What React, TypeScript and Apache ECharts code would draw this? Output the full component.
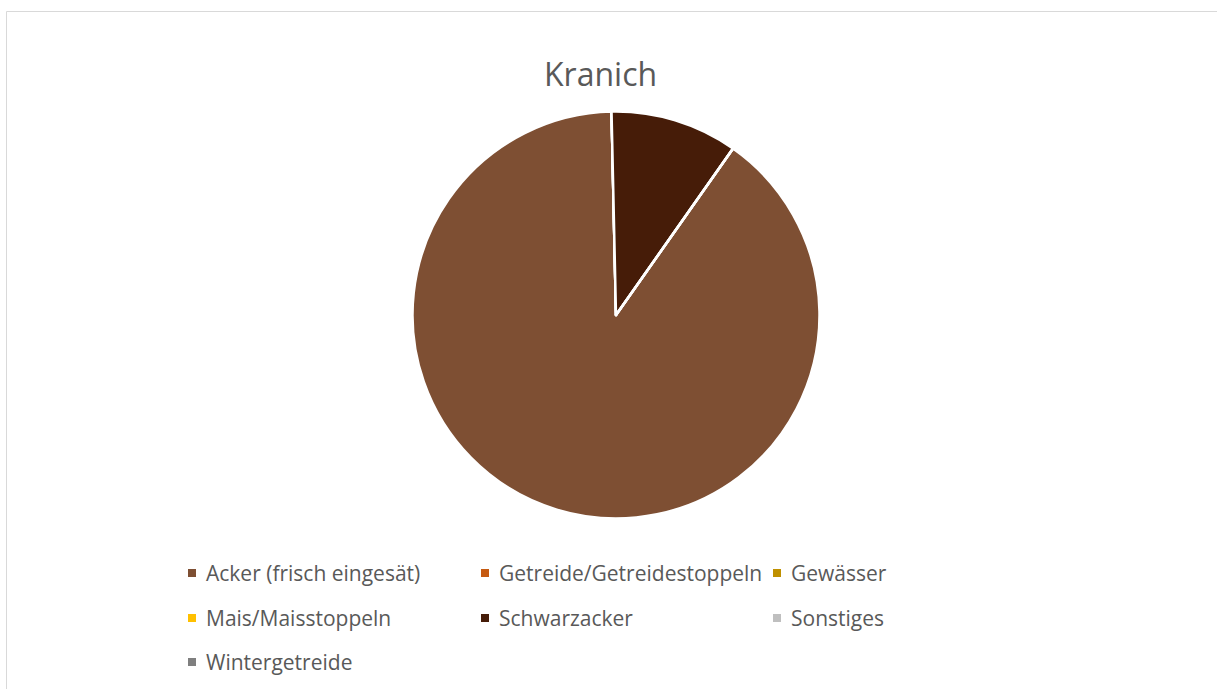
import React, { useEffect, useRef } from "react";
import * as echarts from "echarts";

const titleText = "Kranich";
const categories = [
  "Acker (frisch eingesät)",
  "Getreide/Getreidestoppeln",
  "Gewässer",
  "Mais/Maisstoppeln",
  "Schwarzacker",
  "Sonstiges",
  "Wintergetreide",
];
const values = [89.9, 0, 0, 0, 10.1, 0, 0];
const colors = ["#7E4F33", "#C55A11", "#BF9000", "#FFC000", "#461C08", "#BFBFBF", "#7F7F7F"];

const FONT = "'Open Sans', 'Noto Sans', sans-serif";
const TEXT_COLOR = "#595959";
const colLefts = [188, 481, 773];
const rowCenters = [573, 618, 662];

export default function App() {
  const ref = useRef<HTMLDivElement>(null);
  useEffect(() => {
    if (!ref.current) return;
    const chart = echarts.init(ref.current, undefined, { renderer: "svg" });
    const legends = categories.map((name, i) => ({
      data: [name],
      left: colLefts[i % 3],
      top: rowCenters[Math.floor(i / 3)] - 12,
      padding: 0,
      icon: "rect",
      itemWidth: 8,
      itemHeight: 8,
      itemStyle: { borderWidth: 0 },
      selectedMode: false,
      textStyle: {
        fontFamily: FONT,
        fontSize: 21,
        lineHeight: 24,
        color: TEXT_COLOR,
        padding: [0, 0, 0, 5],
      },
    }));
    chart.setOption({
      animation: false,
      color: colors,
      title: {
        text: titleText,
        left: 544,
        top: 53,
        padding: 0,
        textStyle: { fontFamily: FONT, fontSize: 32, lineHeight: 40, fontWeight: "normal", color: TEXT_COLOR },
      },
      legend: legends,
      graphic: [
        {
          type: "rect",
          shape: { x: 6.5, y: 11.5, width: 1400, height: 900 },
          style: { fill: "none", stroke: "#D9D9D9", lineWidth: 1 },
          silent: true,
        },
      ],
      series: [
        {
          type: "pie",
          center: [616, 315],
          radius: 203.5,
          startAngle: 54.9,
          clockwise: true,
          label: { show: false },
          labelLine: { show: false },
          emphasis: { disabled: true },
          itemStyle: { borderColor: "#FFFFFF", borderWidth: 2.5 },
          data: categories.map((name, i) => ({ name, value: values[i] })),
        },
      ],
    });
    return () => chart.dispose();
  }, []);
  return (
    <div
      ref={ref}
      style={{ position: "fixed", left: 0, top: 0, width: 1217, height: 689, background: "#fff" }}
    />
  );
}
